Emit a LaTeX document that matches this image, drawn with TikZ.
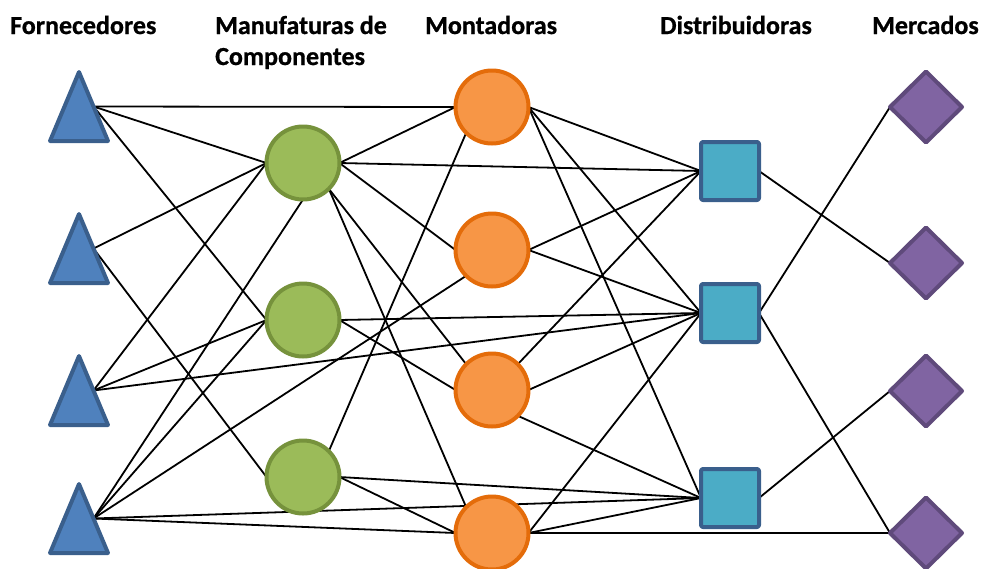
\documentclass[tikz,border=0pt]{standalone}
\usepackage{fontspec}
\setmainfont{Carlito}[BoldFeatures={FakeBold=0.8}]
\usetikzlibrary{shapes.geometric,backgrounds}
\definecolor{supFill}{HTML}{4F81BD}
\definecolor{supLine}{HTML}{3A5F8C}
\definecolor{mfgFill}{HTML}{9BBB59}
\definecolor{mfgLine}{HTML}{76923C}
\definecolor{asmFill}{HTML}{F79646}
\definecolor{asmLine}{HTML}{E46C0A}
\definecolor{dstFill}{HTML}{4BACC6}
\definecolor{dstLine}{HTML}{3A5F8C}
\definecolor{mktFill}{HTML}{8064A2}
\definecolor{mktLine}{HTML}{5F4A7B}
\begin{document}
\begin{tikzpicture}[x=1pt,y=-1pt,
  shapebase/.style={draw, outer sep=0pt, inner sep=0pt, line join=round},
  supplier/.style={shapebase, isosceles triangle, shape border rotate=90,
    isosceles triangle stretches, minimum width=58pt, minimum height=69pt,
    line width=4pt, fill=supFill, draw=supLine},
  maker/.style={shapebase, circle, minimum size=73pt, line width=4pt, fill=mfgFill, draw=mfgLine},
  assembler/.style={shapebase, circle, minimum size=73pt, line width=4pt, fill=asmFill, draw=asmLine},
  depot/.style={shapebase, rectangle, rounded corners=2pt, minimum size=58pt, line width=4pt, fill=dstFill, draw=dstLine},
  market/.style={shapebase, diamond, aspect=1, minimum width=72pt, minimum height=71pt, line width=4pt, fill=mktFill, draw=mktLine},
  link/.style={line width=1.8pt, black},
  heading/.style={font=\bfseries\fontsize{26}{31}\selectfont, anchor=base west, inner sep=0pt}
]
\useasboundingbox (0,0) rectangle (984,568);

% column headings
\node[heading] (h1)  at (10,34)  {Fornecedores};
\node[heading] (h2a) at (215,34) {Manufaturas de};
\node[heading] (h2b) at (215,65) {Componentes};
\node[heading] (h3)  at (425,34) {Montadoras};
\node[heading] (h4)  at (660,34) {Distribuidoras};
\node[heading] (h5)  at (872,34) {Mercados};

% suppliers
\node[supplier, anchor=apex] (T1) at (79,72)  {};
\node[supplier, anchor=apex] (T2) at (79,214) {};
\node[supplier, anchor=apex] (T3) at (79,356) {};
\node[supplier, anchor=apex] (T4) at (79,484) {};

% component makers
\node[maker] (G1) at (303,163) {};
\node[maker] (G2) at (303,320) {};
\node[maker] (G3) at (303,477) {};

% assemblers
\node[assembler] (O1) at (492,107) {};
\node[assembler] (O2) at (492,250) {};
\node[assembler] (O3) at (492,390) {};
\node[assembler] (O4) at (492,533) {};

% distributors
\node[depot] (D1) at (730,171) {};
\node[depot] (D2) at (730,313) {};
\node[depot] (D3) at (730,498) {};

% markets
\node[market] (M1) at (926,107) {};
\node[market] (M2) at (926,263) {};
\node[market] (M3) at (926,391) {};
\node[market] (M4) at (926,533) {};

\begin{pgfonlayer}{background}
% suppliers -> next tiers
\draw[link] (T1.right side) -- (O1.west);
\draw[link] (T1.right side) -- (G1.west);
\draw[link] (T1.right side) -- (G2.west);
\draw[link] (T2.right side) -- (G1.west);
\draw[link] (T2.right side) -- (G3.west);
\draw[link] (T3.right side) -- (G1.west);
\draw[link] (T3.right side) -- (G2.west);
\draw[link] (T3.right side) -- (D2.west);
\draw[link] (T4.right side) -- (G1.south);
\draw[link] (T4.right side) -- (G2.west);
\draw[link] (T4.right side) -- (O2.south west);
\draw[link] (T4.right side) -- (D3.west);
\draw[link] (T4.right side) -- (O4.west);
% component makers -> assemblers / distributors
\draw[link] (G1.east) -- (O1.west);
\draw[link] (G1.east) -- (D1.west);
\draw[link] (G1.east) -- (O2.west);
\draw[link] (G1.south east) -- (O3.north west);
\draw[link] (G1.south east) -- (O4.north west);
\draw[link] (G2.east) -- (D2.west);
\draw[link] (G2.east) -- (O3.west);
\draw[link] (G3.north east) -- (O1.south west);
\draw[link] (G3.east) -- (D3.west);
\draw[link] (G3.east) -- (O4.west);
% assemblers -> distributors / markets
\draw[link] (O1.east) -- (D1.west);
\draw[link] (O1.east) -- (D2.west);
\draw[link] (O1.east) -- (D3.west);
\draw[link] (O2.east) -- (D1.west);
\draw[link] (O2.east) -- (D2.west);
\draw[link] (O3.north east) -- (D1.west);
\draw[link] (O3.east) -- (D2.west);
\draw[link] (O3.south east) -- (D3.west);
\draw[link] (O4.east) -- (D2.west);
\draw[link] (O4.east) -- (D3.west);
\draw[link] (O4.east) -- (M4.west);
% distributors -> markets
\draw[link] (D1.east) -- (M2.west);
\draw[link] (D2.east) -- (M1.west);
\draw[link] (D2.east) -- (M4.west);
\draw[link] (D3.east) -- (M3.west);
\end{pgfonlayer}
\end{tikzpicture}
\end{document}
